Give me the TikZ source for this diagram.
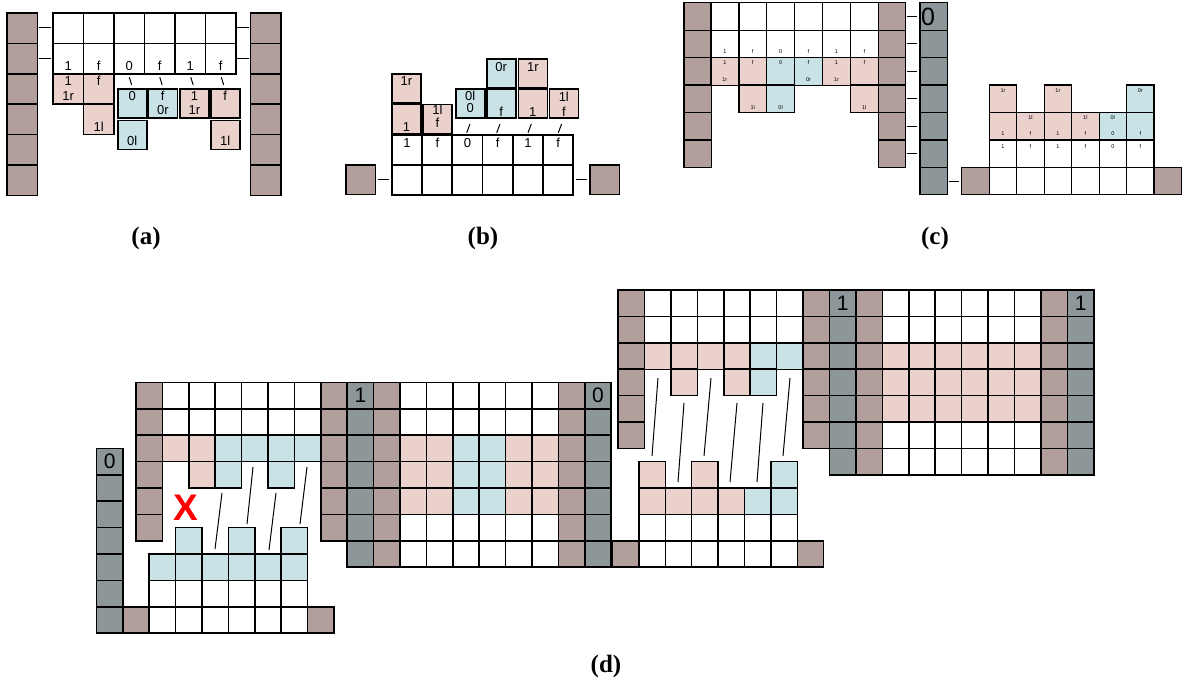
\documentclass[tikz,border=0pt]{standalone}
\usepackage{fontspec}
\setmainfont{Liberation Sans}
\newfontfamily\capfont{Liberation Serif}
\definecolor{cbrown}{HTML}{B29E9B}
\definecolor{cpink}{HTML}{EBD1CC}
\definecolor{cblue}{HTML}{C9E2E6}
\definecolor{cgray}{HTML}{8D9799}
\def\clw{1.5pt}\def\lfs{12}\def\tlw{1pt}
\tikzset{
  bx/.style={draw=black, line width=\clw, inner sep=0pt, outer sep=0pt, anchor=north west, minimum width=#1, minimum height=#1},
  lab/.style={inner sep=0pt, anchor=base, font=\fontsize{\lfs}{\lfs}\selectfont},
  tickln/.style={line width=\tlw, draw=black},
  captxt/.style={inner sep=0pt, font=\capfont\bfseries\fontsize{25}{25}\selectfont},
  bigtxt/.style={inner sep=0pt, font=\fontsize{#1}{#1}\selectfont},
}
% column of cells: prefix, x, y0, step, size, last index, colour
\newcommand\mkcol[7]{\foreach \i in {0,...,#6} {\node[bx=#5, fill=#7] (#1\i) at (#2,{#3+#4*\i}) {};}}
% row of cells: prefix, x0, y, step, size, colour list
\newcommand\mkrow[6]{\foreach \c [count=\j from 0] in {#6} {\node[bx=#5, fill=\c] (#1\j) at ({#2+#4*\j},#3) {};}}
% single cell: name, x, y, size, colour
\newcommand\mkcell[5]{\node[bx=#4, fill=#5] (#1) at (#2,#3) {};}
% label: name, x, baseline y, text
\newcommand\mklab[4]{\node[lab] (#1) at (#2,#3) {#4};}
% tick line: name, x1, y1, x2, y2
\newcommand\mktick[5]{\coordinate (#1s) at (#2,#3); \coordinate (#1e) at (#4,#5); \draw[tickln] (#1s) -- (#1e);}
\begin{document}
\begin{tikzpicture}[x=1pt,y=-1pt]
\useasboundingbox (0,0) rectangle (1182,692);
\fill[white] (0,0) rectangle (1182,692);
%%%%%%%%%%%%%%%% (a)
\begin{scope}
\def\clw{1.6pt}\def\lfs{13}\def\tlw{1pt}
\mkcol{aL}{7}{13}{30.4}{30.4}{5}{cbrown}
\mkcol{aR}{250.5}{13}{30.4}{30.4}{5}{cbrown}
\mkrow{aA}{53}{13}{30.5}{30.4}{white,white,white,white,white,white}
\mkrow{aB}{53}{43.4}{30.5}{30.4}{white,white,white,white,white,white}
\mkcell{aC0}{53}{73.8}{30.4}{cpink}
\mkcell{aC1}{83.5}{73.8}{30.4}{cpink}
\mkcell{aD1}{83.5}{104.2}{30.4}{cpink}
\mkcell{aE2}{117.7}{89}{29}{cblue}
\mkcell{aF2}{117.7}{120.5}{29}{cblue}
\mkcell{aE3}{148.3}{89}{29}{cblue}
\mkcell{aE4}{180}{89}{29}{cpink}
\mkcell{aE5}{210.7}{89}{29}{cpink}
\mkcell{aF5}{210.7}{120.5}{29}{cpink}
\foreach \t [count=\k from 0] in {1,f,0,f,1,f} {\node[lab] (aBt\k) at ({68.2+30.5*\k},71) {\t};}
\mklab{aC0t}{68.2}{86}{1}\mklab{aC0b}{68.2}{101}{1r}
\mklab{aC1t}{98.7}{86}{f}
\mklab{aD1b}{98.7}{132}{1l}
\mklab{aE2t}{132.2}{100.5}{0}\mklab{aF2b}{132.2}{145.5}{0l}
\mklab{aE3t}{162.8}{100.5}{f}\mklab{aE3b}{162.8}{115}{0r}
\mklab{aE4t}{194.5}{100.5}{1}\mklab{aE4b}{194.5}{115}{1r}
\mklab{aE5t}{225.2}{100.5}{f}\mklab{aF5b}{225.2}{145.5}{1l}
\foreach \x [count=\k] in {130.5,161,192,222.5} {\mktick{aK\k}{\x-1.2}{77.3}{\x+1.2}{85}}
\mktick{aDa}{39}{28}{51}{28}\mktick{aDb}{39}{58.5}{51}{58.5}
\mktick{aDc}{237}{28}{249}{28}\mktick{aDd}{237}{58.5}{249}{58.5}
\node[captxt] (capa) at (146,238) {(a)};
\end{scope}
%%%%%%%%%%%%%%%% (b)
\begin{scope}
\def\clw{1.6pt}\def\lfs{13}\def\tlw{1pt}
\mkcell{bL}{346}{165}{29.5}{cbrown}
\mkcell{bR}{590}{165}{29.5}{cbrown}
\mkrow{bA}{392}{165}{30.2}{30}{white,white,white,white,white,white}
\mkrow{bB}{392}{135}{30.2}{30}{white,white,white,white,white,white}
\mkcell{bC0}{392}{104.5}{29}{cpink}
\mkcell{bD0}{392}{74}{29}{cpink}
\mkcell{bC1}{423}{104.5}{29}{cpink}
\mkcell{bC2}{455.7}{89.3}{29}{cblue}
\mkcell{bC3}{486.7}{89.3}{29}{cblue}
\mkcell{bD3}{486.7}{59.3}{29}{cblue}
\mkcell{bC4}{518.3}{89.3}{29}{cpink}
\mkcell{bD4}{518.3}{59.3}{29}{cpink}
\mkcell{bC5}{549.3}{89.3}{29}{cpink}
\foreach \t [count=\k from 0] in {1,f,0,f,1,f} {\node[lab] (bBt\k) at ({407.1+30.2*\k},147.5) {\t};}
\mklab{bC0b}{406.5}{132}{1}\mklab{bD0t}{406.5}{85.5}{1r}
\mklab{bC1t}{437.5}{114.5}{1l}\mklab{bC1b}{437.5}{127.5}{f}
\mklab{bC2t}{470.2}{101}{0l}\mklab{bC2b}{470.2}{112.5}{0}
\mklab{bC3b}{501.2}{117}{f}\mklab{bD3t}{501.2}{72}{0r}
\mklab{bC4b}{532.8}{117}{1}\mklab{bD4t}{532.8}{72}{1r}
\mklab{bC5t}{563.8}{101.5}{1l}\mklab{bC5b}{563.8}{116.5}{f}
\foreach \x [count=\k] in {466.7,496.7,528,558.3} {\mktick{bK\k}{\x}{132.7}{\x+3.3}{124}}
\mktick{bDa}{378}{180}{389}{180}\mktick{bDb}{576}{180}{587}{180}
\node[captxt] (capb) at (483,238) {(b)};
\end{scope}
%%%%%%%%%%%%%%%% (c)
\begin{scope}
\def\clw{1.2pt}\def\lfs{5.5}\def\tlw{1pt}
\mkcol{cL}{684}{2.7}{27.45}{27.45}{5}{cbrown}
\mkrow{cA}{711}{2.7}{27.9}{27.6}{white,white,white,white,white,white}
\mkrow{cB}{711}{30.15}{27.9}{27.6}{white,white,white,white,white,white}
\mkrow{cC}{711}{57.6}{27.9}{27.6}{cpink,cpink,cblue,cblue,cpink,cpink}
\mkcell{cD1}{738.9}{85.05}{27.6}{cpink}
\mkcell{cD2}{766.8}{85.05}{27.6}{cblue}
\mkcell{cD5}{850.5}{85.05}{27.6}{cpink}
\mkcol{cR}{878.4}{2.7}{27.45}{27.45}{5}{cbrown}
\mkcol{cG}{920}{2.7}{27.45}{27.45}{6}{cgray}
\node[bigtxt=25, anchor=west] (cG0t) at (921,16.6) {0};
\foreach \i in {0,...,5} {\mktick{cDa\i}{907}{16.4+27.45*\i}{917}{16.4+27.45*\i}}
\mktick{cDb}{949}{181.6}{959}{181.6}
\mkcell{cBL}{961.8}{167.4}{27.45}{cbrown}
\mkrow{cW0}{989.3}{167.4}{27.45}{27.45}{white,white,white,white,white,white}
\mkrow{cW1}{989.3}{139.95}{27.45}{27.45}{white,white,white,white,white,white}
\mkrow{cW2}{989.3}{112.5}{27.45}{27.45}{cpink,cpink,cpink,cpink,cblue,cblue}
\mkcell{cW30}{989.3}{85.05}{27.45}{cpink}
\mkcell{cW32}{1044.2}{85.05}{27.45}{cpink}
\mkcell{cW35}{1126.55}{85.05}{27.45}{cblue}
\mkcell{cBR}{1154.2}{167.4}{27.45}{cbrown}
% labels upper-left block
\foreach \t [count=\k from 0] in {1,f,0,f,1,f} {\node[lab] (cBt\k) at ({724.8+27.9*\k},54) {\t};}
\foreach \t [count=\k from 0] in {1,f,0,f,1,f} {\node[lab] (cCt\k) at ({724.8+27.9*\k},64.5) {\t};}
\mklab{cCb0}{724.8}{82}{1r}\mklab{cCb3}{808.5}{82}{0r}\mklab{cCb4}{836.4}{82}{1r}
\mklab{cDb1}{752.7}{109.5}{1l}\mklab{cDb2}{780.6}{109.5}{0l}\mklab{cDb5}{864.3}{109.5}{1l}
% labels lower-right block
\foreach \t [count=\k from 0] in {1,f,1,f,0,f} {\node[lab] (cW1t\k) at ({1003+27.45*\k},148.5) {\t};}
\foreach \t [count=\k from 0] in {1,f,1,f,0,f} {\node[lab] (cW2b\k) at ({1003+27.45*\k},136) {\t};}
\mklab{cW2t1}{1030.45}{119.5}{1l}\mklab{cW2t3}{1085.35}{119.5}{1l}\mklab{cW2t4}{1112.8}{119.5}{0l}
\mklab{cW3t0}{1003}{93}{1r}\mklab{cW3t2}{1057.9}{93}{1r}\mklab{cW3t5}{1140.25}{93}{0r}
\node[captxt] (capc) at (935,238) {(c)};
\end{scope}
%%%%%%%%%%%%%%%% (d)
\begin{scope}
\def\clw{1.5pt}\def\tlw{1pt}
% lower-left
\mkcol{dLLg}{96.4}{448.4}{26.4}{26.4}{6}{cgray}
\node[bigtxt=21] (dLLgt) at (109.6,461.6) {0};
\mkcell{dLLb}{122.8}{606.8}{26.4}{cbrown}
\mkrow{dLLw0}{149.2}{606.8}{26.4}{26.4}{white,white,white,white,white,white}
\mkrow{dLLw1}{149.2}{580.4}{26.4}{26.4}{white,white,white,white,white,white}
\mkrow{dLLw2}{149.2}{554}{26.4}{26.4}{cblue,cblue,cblue,cblue,cblue,cblue}
\mkcell{dLLw31}{175.6}{527.6}{26.4}{cblue}
\mkcell{dLLw33}{228.4}{527.6}{26.4}{cblue}
\mkcell{dLLw35}{281.2}{527.6}{26.4}{cblue}
\mkcell{dLLr}{307.6}{606.8}{26.4}{cbrown}
% upper-left
\mkcol{dULb}{136}{382.4}{26.4}{26.4}{5}{cbrown}
\mkrow{dULw0}{162.4}{382.4}{26.4}{26.4}{white,white,white,white,white,white}
\mkrow{dULw1}{162.4}{408.8}{26.4}{26.4}{white,white,white,white,white,white}
\mkrow{dULw2}{162.4}{435.2}{26.4}{26.4}{cpink,cpink,cblue,cblue,cblue,cblue}
\mkcell{dULw31}{188.8}{461.6}{26.4}{cpink}
\mkcell{dULw32}{215.2}{461.6}{26.4}{cblue}
\mkcell{dULw34}{268}{461.6}{26.4}{cblue}
% middle
\mkcol{dMb0}{320.8}{382.4}{26.4}{26.4}{5}{cbrown}
\mkcol{dMg0}{347.2}{382.4}{26.4}{26.4}{6}{cgray}
\mkcol{dMb1}{373.6}{382.4}{26.4}{26.4}{6}{cbrown}
\mkrow{dMw0}{400}{382.4}{26.4}{26.4}{white,white,white,white,white,white}
\mkrow{dMw1}{400}{408.8}{26.4}{26.4}{white,white,white,white,white,white}
\mkrow{dMw2}{400}{435.2}{26.4}{26.4}{cpink,cpink,cblue,cblue,cpink,cpink}
\mkrow{dMw3}{400}{461.6}{26.4}{26.4}{cpink,cpink,cblue,cblue,cpink,cpink}
\mkrow{dMw4}{400}{488}{26.4}{26.4}{cpink,cpink,cblue,cblue,cpink,cpink}
\mkrow{dMw5}{400}{514.4}{26.4}{26.4}{white,white,white,white,white,white}
\mkrow{dMw6}{400}{540.8}{26.4}{26.4}{white,white,white,white,white,white}
\mkcol{dMb2}{558.4}{382.4}{26.4}{26.4}{6}{cbrown}
\mkcol{dMg1}{584.8}{382.4}{26.4}{26.4}{6}{cgray}
\node[bigtxt=21] (dMg0t) at (360.4,395.6) {1};
\node[bigtxt=21] (dMg1t) at (598,395.6) {0};
% lower-middle
\mkcell{dLMb}{612.5}{540.8}{26.4}{cbrown}
\mkrow{dLMw0}{638.9}{540.8}{26.4}{26.4}{white,white,white,white,white,white}
\mkrow{dLMw1}{638.9}{514.4}{26.4}{26.4}{white,white,white,white,white,white}
\mkrow{dLMw2}{638.9}{488}{26.4}{26.4}{cpink,cpink,cpink,cpink,cblue,cblue}
\mkcell{dLMw30}{638.9}{461.6}{26.4}{cpink}
\mkcell{dLMw32}{691.7}{461.6}{26.4}{cpink}
\mkcell{dLMw35}{770.9}{461.6}{26.4}{cblue}
\mkcell{dLMr}{797.3}{540.8}{26.4}{cbrown}
% upper-middle
\mkcol{dUMb0}{618}{290}{26.4}{26.4}{5}{cbrown}
\mkrow{dUMw0}{644.4}{290}{26.45}{26.45}{white,white,white,white,white,white}
\mkrow{dUMw1}{644.4}{316.4}{26.45}{26.45}{white,white,white,white,white,white}
\mkrow{dUMw2}{644.4}{342.8}{26.45}{26.45}{cpink,cpink,cpink,cpink,cblue,cblue}
\mkcell{dUMw31}{670.85}{369.2}{26.45}{cpink}
\mkcell{dUMw33}{723.75}{369.2}{26.45}{cpink}
\mkcell{dUMw34}{750.2}{369.2}{26.45}{cblue}
\mkcol{dUMb1}{803.1}{290}{26.4}{26.4}{5}{cbrown}
% right
\mkcol{dRg0}{829.5}{290}{26.4}{26.4}{6}{cgray}
\mkcol{dRb0}{855.9}{290}{26.4}{26.4}{6}{cbrown}
\mkrow{dRw0}{882.3}{290}{26.45}{26.45}{white,white,white,white,white,white}
\mkrow{dRw1}{882.3}{316.4}{26.45}{26.45}{white,white,white,white,white,white}
\mkrow{dRw2}{882.3}{342.8}{26.45}{26.45}{cpink,cpink,cpink,cpink,cpink,cpink}
\mkrow{dRw3}{882.3}{369.2}{26.45}{26.45}{cpink,cpink,cpink,cpink,cpink,cpink}
\mkrow{dRw4}{882.3}{395.6}{26.45}{26.45}{cpink,cpink,cpink,cpink,cpink,cpink}
\mkrow{dRw5}{882.3}{422}{26.45}{26.45}{white,white,white,white,white,white}
\mkrow{dRw6}{882.3}{448.4}{26.45}{26.45}{white,white,white,white,white,white}
\mkcol{dRb1}{1041}{290}{26.4}{26.4}{6}{cbrown}
\mkcol{dRg1}{1067.4}{290}{26.4}{26.4}{6}{cgray}
\node[bigtxt=21] (dRg0t) at (842.7,303.2) {1};
\node[bigtxt=21] (dRg1t) at (1080.6,303.2) {1};
% slanted lines
\mktick{dK1}{222}{493}{215}{549}
\mktick{dK2}{253}{467}{247}{524}
\mktick{dK3}{276}{493}{269}{550}
\mktick{dK4}{307}{467}{300}{524}
\mktick{dK5}{658}{378}{652}{456}
\mktick{dK6}{684}{403}{678}{482}
\mktick{dK7}{711}{378}{704}{456}
\mktick{dK8}{737}{403}{730}{482}
\mktick{dK9}{763}{403}{757}{482}
\mktick{dK10}{790}{378}{783}{456}
\node[inner sep=0pt, text=red, font=\bfseries\fontsize{37}{37}\selectfont] (dX) at (185.5,507.5) {X};
\node[captxt] (capd) at (606,666) {(d)};
\end{scope}
\end{tikzpicture}
\end{document}
